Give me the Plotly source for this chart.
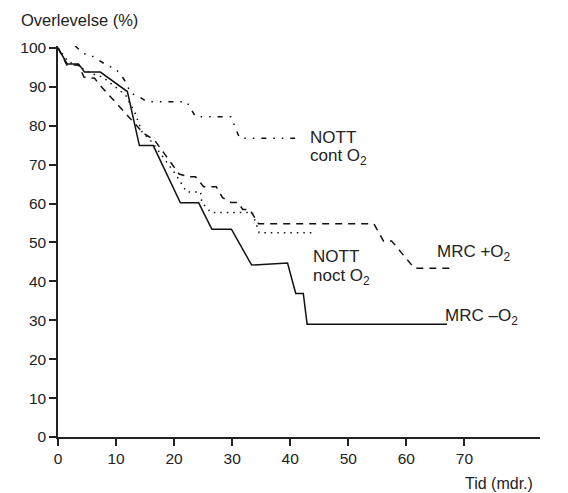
import plotly.graph_objects as go

# MRC -O2 (solid)
mrc_minus_x = [0, 1.58, 3.54, 4.57, 7.29, 11.95, 14.02, 16.41, 21.08, 24.23, 26.51, 29.87, 33.35, 39.54, 40.95, 42.25, 42.91, 67.0]
mrc_minus_y = [100, 95.9, 95.9, 93.8, 93.8, 88.8, 74.9, 74.9, 60.2, 60.2, 53.4, 53.4, 44.2, 44.7, 36.9, 36.9, 29.0, 29.0]

# MRC +O2 (dashed)
mrc_plus_x = [0, 1.53, 3.59, 4.46, 6.31, 7.18, 11.41, 14.67, 16.63, 20.86, 22.6, 23.68, 25.1, 27.27, 28.35, 29.77, 30.96, 31.83, 33.02, 34.54, 54.42, 56.05, 57.46, 61.37, 67.56]
mrc_plus_y = [100, 95.6, 95.6, 92.5, 92.2, 90.5, 83.6, 78.1, 76.3, 67.6, 66.9, 66.9, 64.3, 64.3, 61.5, 60.3, 60.3, 58.5, 58.5, 54.8, 54.8, 50.4, 50.4, 43.4, 43.4]

# NOTT noct O2 (dotted)
nott_noct_x = [0, 1.75, 3.38, 5.55, 7.72, 11.63, 13.26, 14.45, 16.19, 20.32, 22.16, 24.55, 24.77, 26.4, 33.46, 34.65, 44.0]
nott_noct_y = [100, 96.5, 95.5, 93.5, 92.5, 87.9, 83.3, 78.5, 75.8, 67.4, 63.0, 63.0, 60.2, 57.7, 57.7, 52.5, 52.5]

# NOTT cont O2 (dash-dot-dot)
nott_cont_x = [2.94, 4.46, 5.55, 6.96, 8.59, 9.78, 10.87, 11.74, 12.5, 13.91, 15.32, 22.16, 23.68, 29.77, 31.29, 40.84]
nott_cont_y = [100.5, 98.5, 98.2, 96.9, 95.4, 94.8, 93.1, 91.0, 88.4, 87.5, 86.2, 86.2, 82.3, 82.3, 76.8, 76.8]

x_ticks = [0, 10, 20, 30, 40, 50, 60, 70]
y_ticks = [0, 10, 20, 30, 40, 50, 60, 70, 80, 90, 100]

FONT = "Liberation Sans, Arial, sans-serif"
TXT = "#222222"
PX_PER_X = 5.914
PLOT_W = 491
FIG_W, FIG_H = 560, 485  # page body adds an 8px margin

fig = go.Figure()
fig.add_trace(go.Scatter(x=nott_cont_x, y=nott_cont_y, mode="lines",
                         line=dict(color="#111", width=1.5, dash="5px,7px,1.5px,7px,1.5px,7px")))
fig.add_trace(go.Scatter(x=nott_noct_x, y=nott_noct_y, mode="lines",
                         line=dict(color="#111", width=1.5, dash="1.5px,5px")))
fig.add_trace(go.Scatter(x=mrc_plus_x, y=mrc_plus_y, mode="lines",
                         line=dict(color="#111", width=1.5, dash="7px,6px")))
fig.add_trace(go.Scatter(x=mrc_minus_x, y=mrc_minus_y, mode="lines",
                         line=dict(color="#111", width=1.5)))

ann = dict(showarrow=False, xref="x", yref="y", xanchor="left", yanchor="middle",
           font=dict(family=FONT, size=17, color=TXT))
fig.add_annotation(x=43.0, y=77.1, text="NOTT", **ann)
fig.add_annotation(x=43.0, y=72.0, text="cont O<sub>2</sub>", **ann)
fig.add_annotation(x=43.5, y=46.5, text="NOTT", **ann)
fig.add_annotation(x=43.5, y=41.2, text="noct O<sub>2</sub>", **ann)
fig.add_annotation(x=65.0, y=47.4, text="MRC +O<sub>2</sub>", **ann)
fig.add_annotation(x=66.4, y=30.8, text="MRC \u2013O<sub>2</sub>", **ann)

fig.add_annotation(text="Overlevelse (%)", xref="paper", yref="paper",
                   x=0, y=1, xshift=-39, yshift=26, xanchor="left", yanchor="middle",
                   showarrow=False, font=dict(family=FONT, size=16.5, color=TXT))
fig.add_annotation(text="Tid (mdr.)", xref="paper", yref="paper",
                   x=1, y=0, xshift=-5, yshift=-46, xanchor="right", yanchor="middle",
                   showarrow=False, font=dict(family=FONT, size=16, color=TXT))

fig.update_layout(
    width=FIG_W, height=FIG_H,
    margin=dict(l=41, r=FIG_W - 41 - PLOT_W, t=38, b=56),
    plot_bgcolor="white", paper_bgcolor="white",
    showlegend=False,
    font=dict(family=FONT, size=16, color=TXT),
    xaxis=dict(range=[0, PLOT_W / PX_PER_X], tickvals=x_ticks, ticktext=[str(v) for v in x_ticks],
               showgrid=False, zeroline=False, showline=True, linecolor="#222", linewidth=1.5,
               ticks="outside", ticklen=7, tickwidth=1.5, tickcolor="#222",
               tickfont=dict(family=FONT, size=15.5, color=TXT)),
    yaxis=dict(range=[0, 100.5], tickvals=y_ticks, ticktext=[str(v) for v in y_ticks],
               showgrid=False, zeroline=False, showline=True, linecolor="#222", linewidth=1.5,
               ticks="outside", ticklen=7, tickwidth=1.5, tickcolor="#222",
               tickfont=dict(family=FONT, size=15.5, color=TXT)),
)

fig.write_html("out.html")
